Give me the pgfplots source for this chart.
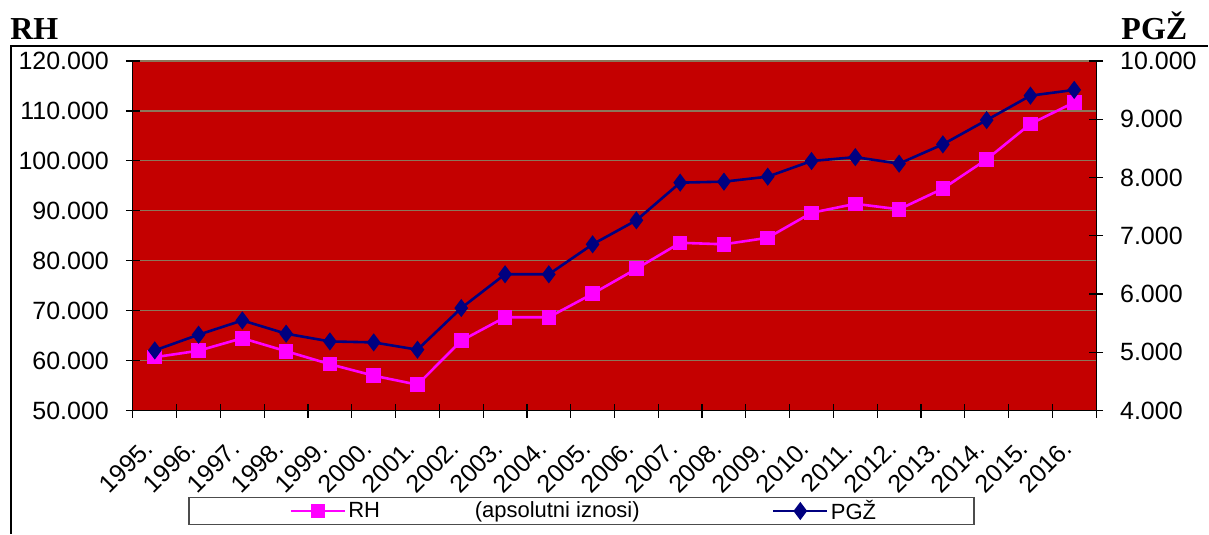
\documentclass[border=0pt]{standalone}
\usepackage{pgfplots}
\pgfplotsset{compat=1.18}
\usepackage{fontspec}
\setmainfont{Liberation Sans}
\newfontfamily\timesfont{Liberation Serif}
\definecolor{plotred}{RGB}{196,0,0}
\definecolor{gridc}{RGB}{140,118,90}
\definecolor{rhpink}{RGB}{255,0,255}
\definecolor{pgzblue}{RGB}{0,0,128}
\pgfplotstableread{
x rh pgz
0 60700 5034
1 62000 5303
2 64500 5548
3 61900 5320
4 59300 5188
5 57000 5171
6 55200 5046
7 64000 5761
8 68700 6340
9 68700 6340
10 73400 6854
11 78400 7266
12 83600 7912
13 83300 7929
14 84600 8015
15 89600 8283
16 91400 8350
17 90300 8238
18 94440 8569
19 100300 8985
20 107400 9405
21 111700 9503
}\datatable
\begin{document}
\begin{tikzpicture}
\path (0,0) rectangle (604.5pt,267pt);
\draw[line width=1pt] (5.5pt,0) -- (5.5pt,244pt) -- (604.5pt,244pt);
\node[anchor=base west, inner sep=0pt, font=\timesfont\bfseries\fontsize{16}{18}\selectfont] at (5pt,247pt) {RH};
\node[anchor=base west, inner sep=0pt, font=\timesfont\bfseries\fontsize{16}{18}\selectfont] at (561pt,247pt) {PGŽ};
\draw[black!70, line width=0.9pt] (94.5pt,4.5pt) rectangle (487.5pt,18pt);
\begin{axis}[
  at={(66.5pt,61.5pt)}, anchor=south west,
  scale only axis, width=482pt, height=175pt,
  xmin=-0.5, xmax=21.5, ymin=50000, ymax=120000,
  axis y line*=left, axis x line*=bottom,
  axis line style={black, line width=0.6pt},
  axis background/.style={fill=plotred, draw=gray},
  ytick={50000,60000,...,120000},
  ymajorgrids, grid style={gridc, line width=0.6pt},
  xtick={-0.5,0.5,...,21.5},
  x tick label as interval,
  xticklabels={1995.,1996.,1997.,1998.,1999.,2000.,2001.,2002.,2003.,2004.,2005.,2006.,2007.,2008.,2009.,2010.,2011.,2012.,2013.,2014.,2015.,2016.},
  tick align=center, major tick length=7pt,
  tick style={black, line width=0.6pt},
  ticklabel style={font=\fontsize{12.5}{14}\selectfont},
  xticklabel style={xshift=-6.5pt, yshift=-8.5pt, rotate=45, anchor=north east, inner sep=1pt},
  yticklabel style={xshift=-5pt, /pgf/number format/.cd, fixed, precision=0, 1000 sep={.}, assume math mode=true},
  scaled y ticks=false,
  clip=false,
]
\addplot[rhpink, line width=1.3pt, mark=square*, mark size=3pt, mark options={solid, fill=rhpink, draw=rhpink}] table[x=x, y=rh] {\datatable};
\end{axis}
\begin{axis}[
  at={(66.5pt,61.5pt)}, anchor=south west,
  scale only axis, width=482pt, height=175pt,
  xmin=-0.5, xmax=21.5, ymin=4000, ymax=10000,
  axis y line*=right, axis x line=none,
  axis line style={black, line width=0.6pt},
  ytick={4000,5000,...,10000},
  tick align=center, major tick length=7pt,
  tick style={black, line width=0.6pt},
  ticklabel style={font=\fontsize{12.5}{14}\selectfont},
  yticklabel style={xshift=5pt, /pgf/number format/.cd, fixed, precision=0, 1000 sep={.}, assume math mode=true},
  scaled y ticks=false,
  clip=false,
  legend columns=3,
  legend style={draw=none, fill=none, at={(0.4684,-0.287)}, anchor=center,
    font=\fontsize{11}{13}\selectfont, inner sep=0pt,
    nodes={inner sep=1.2pt}},
  legend image code/.code={%
    \draw[#1, mark repeat=2, mark phase=2] plot coordinates {(0pt,0pt) (13.5pt,0pt) (27pt,0pt)};},
]
\addlegendimage{rhpink, line width=1.2pt, mark=square*, mark size=3pt, mark options={solid, fill=rhpink}}
\addlegendentry{RH\hspace*{45pt}}
\addlegendimage{empty legend}
\addlegendentry{(apsolutni iznosi)\hspace*{65pt}}
\addplot[pgzblue, line width=1.3pt, mark=diamond*, mark size=3.5pt, mark options={solid, fill=pgzblue, draw=pgzblue}] table[x=x, y=pgz] {\datatable};
\addlegendentry{PGŽ}
\end{axis}
\end{tikzpicture}
\end{document}
